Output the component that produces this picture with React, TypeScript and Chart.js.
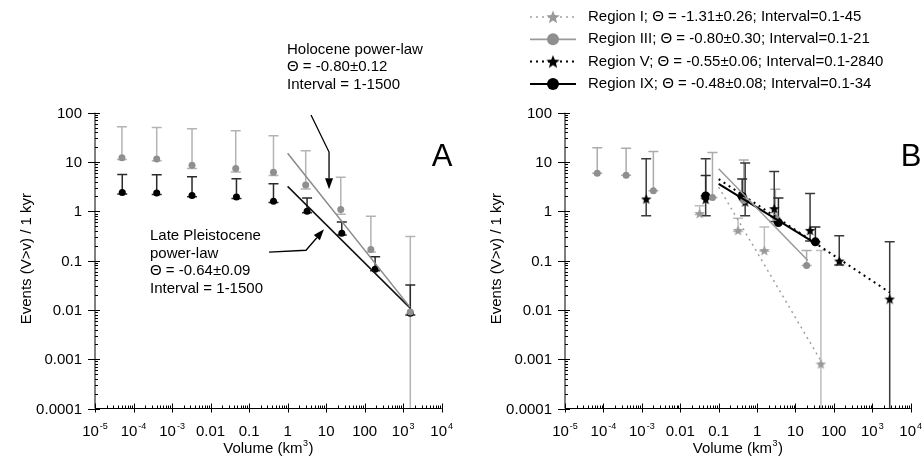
import React, { useEffect, useRef } from 'react';
import { Chart, registerables } from 'chart.js';
Chart.register(...registerables);

// ---------- axis ticks ----------
const xTickValues = [1e-5, 1e-4, 1e-3, 0.01, 0.1, 1, 10, 100, 1e3, 1e4];
const xTickBase = ['10', '10', '10', '0.01', '0.1', '1', '10', '100', '10', '10'];
const xTickExp = ['-5', '-4', '-3', '', '', '', '', '', '3', '4'];
const yTickValues = [100, 10, 1, 0.1, 0.01, 0.001, 0.0001];
const yTickLabels = ['100', '10', '1', '0.1', '0.01', '0.001', '0.0001'];

// ---------- Panel A : Holocene (gray) ----------
const holoX = [5e-5, 4e-4, 3.3e-3, 0.045, 0.43, 2.95, 24, 145, 1530];
const holoY = [12.2, 11.5, 8.6, 7.4, 6.2, 3.4, 1.09, 0.167, 0.0091];
const holoHi = [52, 50, 47, 43, 34, 17, 4.9, 0.79, 0.31];
const holoLo = [11.2, 10.6, 7.4, 6.3, 5.3, 2.85, 0.87, 0.15, 0.0001];
const holoFitX = [1, 1500];
const holoFitY = [15, 0.0114];

// ---------- Panel A : Late Pleistocene (black) ----------
const lpX = [5.1e-5, 4e-4, 3.3e-3, 0.047, 0.43, 3.2, 25.5, 187, 1530];
const lpY = [2.4, 2.35, 2.1, 1.94, 1.6, 1.0, 0.36, 0.067, 0.0086];
const lpHi = [5.6, 5.5, 5.0, 4.6, 3.6, 1.86, 0.61, 0.12, 0.032];
const lpLo = [2.25, 2.2, 1.97, 1.82, 1.5, 0.93, 0.33, 0.062, 0.0079];
const lpFitX = [1, 1500];
const lpFitY = [3.2, 0.011];

// ---------- Panel B ----------
const r1X = [0.032, 0.32, 1.55, 46];
const r1Y = [0.9, 0.41, 0.16, 0.0008];
const r1Hi = [1.3, 0.72, 0.48, 0.16];
const r1Lo = [0.86, 0.39, 0.155, 0.0001];
const r1FitX = [0.1, 45];
const r1FitY = [3.1, 0.00095];

const r3X = [6.9e-5, 3.9e-4, 2e-3, 0.069, 0.45, 3.0, 19.5];
const r3Y = [5.9, 5.4, 2.6, 1.9, 1.65, 0.75, 0.08];
const r3Hi = [19.5, 19, 16.4, 15.5, 11, 2.8, 0.16];
const r3Lo = [5.9, 5.4, 2.6, 1.9, 1.65, 0.75, 0.08];
const r3FitX = [0.1, 21];
const r3FitY = [7.3, 0.1];

const r5X = [1.3e-3, 0.046, 0.49, 2.8, 24, 138, 2840];
const r5Y = [1.78, 1.75, 1.55, 1.13, 0.41, 0.098, 0.0166];
const r5Hi = [11.6, 11.6, 9.5, 6.4, 2.3, 0.32, 0.24];
const r5Lo = [0.81, 0.81, 0.81, 0.62, 0.25, 0.081, 0.0001];
const r5FitX = [0.1, 2840];
const r5FitY = [4.5, 0.0226];

const r9X = [0.046, 0.41, 3.6, 33];
const r9Y = [2.05, 2.0, 0.59, 0.24];
const r9Hi = [5.3, 4.5, 1.86, 0.48];
const r9Lo = [2.05, 2.0, 0.59, 0.24];
const r9FitX = [0.1, 34];
const r9FitY = [3.6, 0.22];

const legendLabels = [
  'Region I; \u0398 = -1.31\u00b10.26; Interval=0.1-45',
  'Region III; \u0398 = -0.80\u00b10.30; Interval=0.1-21',
  'Region V; \u0398 = -0.55\u00b10.06; Interval=0.1-2840',
  'Region IX; \u0398 = -0.48\u00b10.08; Interval=0.1-34',
];

const holoText = ['Holocene power-law', '\u0398 = -0.80\u00b10.12', 'Interval = 1-1500'];
const lpText = ['Late Pleistocene', 'power-law', '\u0398 = -0.64\u00b10.09', 'Interval = 1-1500'];
// arrows given in data coordinates
const holoArrow = [[4.05, 89.8], [11.9, 15.9], [11.9, 2.81]];
const lpArrow = [[0.33, 0.148], [3.0, 0.162], [8.8, 0.43]];

const FONT = "'Liberation Sans', Arial, sans-serif";
const MIN_Y = 1e-4;

function pts(xs: number[], ys: number[]) {
  return xs.map((x, i) => ({ x, y: ys[i] }));
}

function makeStar(color: string, size: number) {
  const c = document.createElement('canvas');
  c.width = size;
  c.height = size;
  const g = c.getContext('2d')!;
  g.fillStyle = color;
  g.beginPath();
  for (let i = 0; i < 10; i++) {
    const r = i % 2 === 0 ? size / 2 : size / 4.6;
    const ang = -Math.PI / 2 + (i * Math.PI) / 5;
    g.lineTo(size / 2 + r * Math.cos(ang), size / 2 + r * Math.sin(ang) + size * 0.04);
  }
  g.closePath();
  g.fill();
  return c;
}

const errorBarPlugin = {
  id: 'errbars',
  beforeDatasetsDraw(chart: any) {
    const { ctx, scales } = chart;
    const x = scales.x, y = scales.y;
    chart.data.datasets.forEach((ds: any) => {
      if (!ds.errHi) return;
      ctx.save();
      ctx.strokeStyle = ds.errColor;
      ctx.lineWidth = ds.errWidth || 1.5;
      ds.data.forEach((p: any, j: number) => {
        const px = x.getPixelForValue(p.x);
        const top = y.getPixelForValue(ds.errHi[j]);
        const lo = Math.max(ds.errLo[j], MIN_Y);
        const bot = y.getPixelForValue(lo);
        ctx.beginPath();
        ctx.moveTo(px, top);
        ctx.lineTo(px, bot);
        ctx.moveTo(px - 5, top);
        ctx.lineTo(px + 5, top);
        if (lo > MIN_Y) {
          ctx.moveTo(px - 5, bot);
          ctx.lineTo(px + 5, bot);
        }
        ctx.stroke();
      });
      ctx.restore();
    });
  },
};

function drawArrow(ctx: any, chart: any, path: number[][]) {
  const x = chart.scales.x, y = chart.scales.y;
  const p = path.map(([a, b]) => [x.getPixelForValue(a), y.getPixelForValue(b)]);
  const n = p.length;
  const [tx, ty] = p[n - 1];
  const [sx, sy] = p[n - 2];
  const ang = Math.atan2(ty - sy, tx - sx);
  const L = 11, W = 4;
  const bx = tx - L * Math.cos(ang), by = ty - L * Math.sin(ang);
  ctx.save();
  ctx.strokeStyle = '#000';
  ctx.fillStyle = '#000';
  ctx.lineWidth = 1.3;
  ctx.beginPath();
  ctx.moveTo(p[0][0], p[0][1]);
  for (let i = 1; i < n - 1; i++) ctx.lineTo(p[i][0], p[i][1]);
  ctx.lineTo(bx, by);
  ctx.stroke();
  ctx.beginPath();
  ctx.moveTo(tx, ty);
  ctx.lineTo(bx + W * Math.sin(ang), by - W * Math.cos(ang));
  ctx.lineTo(bx - W * Math.sin(ang), by + W * Math.cos(ang));
  ctx.closePath();
  ctx.fill();
  ctx.restore();
}

function drawAxes(chart: any) {
  const { ctx, chartArea: a } = chart;
  const x = chart.scales.x, y = chart.scales.y;
  ctx.save();
  ctx.strokeStyle = '#000';
  ctx.lineWidth = 1;
  ctx.beginPath();
  ctx.moveTo(a.left, a.top);
  ctx.lineTo(a.left, a.bottom);
  ctx.lineTo(a.right, a.bottom);
  ctx.stroke();
  // x ticks
  ctx.beginPath();
  xTickValues.forEach((v, i) => {
    const px = Math.round(x.getPixelForValue(v)) + 0.5;
    ctx.moveTo(px, a.bottom + 4);
    ctx.lineTo(px, a.bottom - 5);
    if (i < xTickValues.length - 1) {
      for (let m = 2; m <= 9; m++) {
        const q = Math.round(x.getPixelForValue(v * m)) + 0.5;
        ctx.moveTo(q, a.bottom);
        ctx.lineTo(q, a.bottom - 3);
      }
    }
  });
  // y ticks
  yTickValues.forEach((v, i) => {
    const py = Math.round(y.getPixelForValue(v)) + 0.5;
    ctx.moveTo(a.left - 7, py);
    ctx.lineTo(a.left + 5, py);
    if (i > 0) {
      for (let m = 2; m <= 9; m++) {
        const q = Math.round(y.getPixelForValue(v * m)) + 0.5;
        ctx.moveTo(a.left, q);
        ctx.lineTo(a.left + 3, q);
      }
    }
  });
  ctx.stroke();

  ctx.fillStyle = '#000';
  // y labels
  ctx.font = `15px ${FONT}`;
  ctx.textAlign = 'right';
  ctx.textBaseline = 'middle';
  yTickValues.forEach((v, i) => {
    ctx.fillText(yTickLabels[i], a.left - 13, y.getPixelForValue(v) + 1);
  });
  // x labels
  ctx.textBaseline = 'alphabetic';
  xTickValues.forEach((v, i) => {
    const cx = x.getPixelForValue(v);
    const base = xTickBase[i], exp = xTickExp[i];
    ctx.font = `15px ${FONT}`;
    const wb = ctx.measureText(base).width;
    ctx.font = `9px ${FONT}`;
    const we = exp ? ctx.measureText(exp).width + 1 : 0;
    const x0 = cx - (wb + we) / 2;
    ctx.textAlign = 'left';
    ctx.font = `15px ${FONT}`;
    ctx.fillText(base, x0, a.bottom + 27);
    if (exp) {
      ctx.font = `9px ${FONT}`;
      ctx.fillText(exp, x0 + wb + 1, a.bottom + 20);
    }
  });
  // x title
  const cx = (a.left + a.right) / 2;
  ctx.font = `15px ${FONT}`;
  const t1 = 'Volume (km', t3 = ')';
  const w1 = ctx.measureText(t1).width, w3 = ctx.measureText(t3).width;
  ctx.font = `9px ${FONT}`;
  const w2 = ctx.measureText('3').width + 1;
  let x0 = cx - (w1 + w2 + w3) / 2;
  ctx.textAlign = 'left';
  ctx.font = `15px ${FONT}`;
  ctx.fillText(t1, x0, a.bottom + 44);
  ctx.font = `9px ${FONT}`;
  ctx.fillText('3', x0 + w1 + 0.5, a.bottom + 37);
  ctx.font = `15px ${FONT}`;
  ctx.fillText(t3, x0 + w1 + w2, a.bottom + 44);
  // y title
  ctx.save();
  ctx.translate(a.left - 68, (a.top + a.bottom) / 2 - 2);
  ctx.rotate(-Math.PI / 2);
  ctx.textAlign = 'center';
  ctx.textBaseline = 'middle';
  ctx.font = `15px ${FONT}`;
  ctx.fillText('Events (V>v) / 1 kyr', 0, 0);
  ctx.restore();
  ctx.restore();
}

function panelLetter(chart: any, letter: string) {
  const { ctx, chartArea: a } = chart;
  ctx.save();
  ctx.fillStyle = '#000';
  ctx.font = `31px ${FONT}`;
  ctx.textAlign = 'left';
  ctx.textBaseline = 'alphabetic';
  ctx.fillText(letter, a.right - 10, a.top + 53);
  ctx.restore();
}

const GRAY_PT = '#8f8f8f';
const GRAY_ERR = '#b4b4b4';
const DARK_ERR = '#2a2a2a';

function baseOptions(padRight: number) {
  return {
    animation: false,
    responsive: false,
    events: [],
    layout: { padding: { left: 95, right: padRight, top: 112.7, bottom: 47.5 } },
    plugins: { legend: { display: false }, tooltip: { enabled: false } },
    scales: {
      x: { type: 'logarithmic', min: 1e-5, max: 1e4, display: false },
      y: { type: 'logarithmic', min: 1e-4, max: 100, display: false },
    },
  };
}

function configA(): any {
  return {
    type: 'scatter',
    data: {
      datasets: [
        { data: pts(holoFitX, holoFitY), showLine: true, borderColor: '#8a8a8a', borderWidth: 1.5, pointRadius: 0 },
        { data: pts(lpFitX, lpFitY), showLine: true, borderColor: '#111', borderWidth: 1.5, pointRadius: 0 },
        {
          data: pts(holoX, holoY), showLine: false, pointRadius: 3.5, pointBackgroundColor: GRAY_PT,
          pointBorderWidth: 0, errHi: holoHi, errLo: holoLo, errColor: GRAY_ERR, errWidth: 1.5,
        },
        {
          data: pts(lpX, lpY), showLine: false, pointRadius: 3.5, pointBackgroundColor: '#000',
          pointBorderWidth: 0, errHi: lpHi, errLo: lpLo, errColor: DARK_ERR, errWidth: 1.5,
        },
      ],
    },
    options: baseOptions(28.3),
    plugins: [
      errorBarPlugin,
      {
        id: 'decoA',
        afterDraw(chart: any) {
          drawAxes(chart);
          panelLetter(chart, 'A');
          const ctx = chart.ctx;
          ctx.save();
          ctx.fillStyle = '#000';
          ctx.font = `15px ${FONT}`;
          ctx.textAlign = 'left';
          ctx.textBaseline = 'middle';
          holoText.forEach((t, i) => ctx.fillText(t, 287, 50 + i * 17.3));
          lpText.forEach((t, i) => ctx.fillText(t, 150, 236 + i * 17.5));
          ctx.restore();
          drawArrow(ctx, chart, holoArrow);
          drawArrow(ctx, chart, lpArrow);
        },
      },
    ],
  };
}

function configB(): any {
  const grayStar = makeStar('#9a9a9a', 11);
  const blackStar = makeStar('#000', 11);
  const grayStarL = makeStar('#9a9a9a', 14);
  const blackStarL = makeStar('#000', 14);
  const legendItems = [
    { color: '#a0a0a0', dash: [2, 4], width: 1.5, marker: 'star', img: grayStarL },
    { color: '#9a9a9a', dash: [], width: 1.8, marker: 'circle', fill: '#8f8f8f' },
    { color: '#000', dash: [2, 4], width: 2, marker: 'star', img: blackStarL },
    { color: '#000', dash: [], width: 2, marker: 'circle', fill: '#000' },
  ];
  return {
    type: 'scatter',
    data: {
      datasets: [
        { data: pts(r1FitX, r1FitY), showLine: true, borderColor: '#a0a0a0', borderWidth: 1.5, borderDash: [2, 4], pointRadius: 0 },
        { data: pts(r3FitX, r3FitY), showLine: true, borderColor: '#9a9a9a', borderWidth: 1.5, pointRadius: 0 },
        { data: pts(r5FitX, r5FitY), showLine: true, borderColor: '#000', borderWidth: 2, borderDash: [2, 4], pointRadius: 0 },
        { data: pts(r9FitX, r9FitY), showLine: true, borderColor: '#000', borderWidth: 2, pointRadius: 0 },
        {
          data: pts(r1X, r1Y), showLine: false, pointStyle: grayStar, pointRadius: 5,
          errHi: r1Hi, errLo: r1Lo, errColor: '#bdbdbd', errWidth: 1.5,
        },
        {
          data: pts(r3X, r3Y), showLine: false, pointRadius: 3.5, pointBackgroundColor: GRAY_PT,
          pointBorderWidth: 0, errHi: r3Hi, errLo: r3Lo, errColor: '#ababab', errWidth: 1.5,
        },
        {
          data: pts(r5X, r5Y), showLine: false, pointStyle: blackStar, pointRadius: 5,
          errHi: r5Hi, errLo: r5Lo, errColor: '#3a3a3a', errWidth: 1.5,
        },
        {
          data: pts(r9X, r9Y), showLine: false, pointRadius: 4.5, pointBackgroundColor: '#000',
          pointBorderWidth: 0, errHi: r9Hi, errLo: r9Lo, errColor: '#2a2a2a', errWidth: 1.5,
        },
      ],
    },
    options: baseOptions(11.3),
    plugins: [
      errorBarPlugin,
      {
        id: 'decoB',
        afterDraw(chart: any) {
          drawAxes(chart);
          panelLetter(chart, 'B');
          const ctx = chart.ctx;
          ctx.save();
          legendItems.forEach((it: any, i: number) => {
            const yy = 17 + i * 22.3;
            ctx.strokeStyle = it.color;
            ctx.lineWidth = it.width;
            ctx.setLineDash(it.dash);
            ctx.beginPath();
            ctx.moveTo(60, yy);
            ctx.lineTo(106, yy);
            ctx.stroke();
            ctx.setLineDash([]);
            if (it.marker === 'star') {
              ctx.drawImage(it.img, 83 - it.img.width / 2, yy - it.img.height / 2);
            } else {
              ctx.fillStyle = it.fill;
              ctx.beginPath();
              ctx.arc(83, yy, 6, 0, Math.PI * 2);
              ctx.fill();
            }
            ctx.fillStyle = '#000';
            ctx.font = `15px ${FONT}`;
            ctx.textAlign = 'left';
            ctx.textBaseline = 'middle';
            ctx.fillText(legendLabels[i], 118, yy);
          });
          ctx.restore();
        },
      },
    ],
  };
}

export default function App() {
  const refA = useRef<HTMLCanvasElement>(null);
  const refB = useRef<HTMLCanvasElement>(null);
  useEffect(() => {
    const a = new Chart(refA.current as HTMLCanvasElement, configA());
    const b = new Chart(refB.current as HTMLCanvasElement, configB());
    return () => {
      a.destroy();
      b.destroy();
    };
  }, []);
  return (
    <div style={{ position: 'fixed', left: 0, top: 0, width: 922, height: 456, background: '#fff' }}>
      <canvas ref={refA} width={470} height={456} style={{ position: 'absolute', left: 0, top: 0, width: 470, height: 456 }} />
      <canvas ref={refB} width={452} height={456} style={{ position: 'absolute', left: 470, top: 0, width: 452, height: 456 }} />
    </div>
  );
}
